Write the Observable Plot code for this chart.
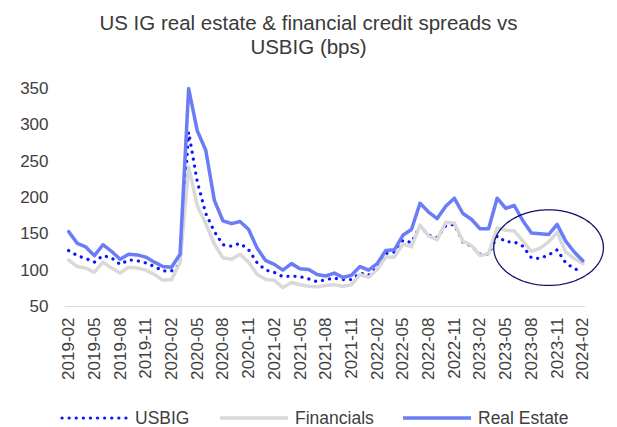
<!DOCTYPE html>
<html>
<head>
<meta charset="utf-8">
<script src="https://cdn.jsdelivr.net/npm/d3@7"></script>
<script src="https://cdn.jsdelivr.net/npm/@observablehq/plot@0.6"></script>
<style>
  html, body { margin: 0; padding: 0; background: #fff; }
  body { width: 617px; height: 427px; position: relative; overflow: hidden; font-family: "Liberation Sans", Arial, sans-serif; color: #404040; }
  #title { position: absolute; left: 0; top: 11px; width: 617px; text-align: center; font-size: 20.5px; line-height: 24px; color: #3a3a3a; }
  #chart { position: absolute; left: 0; top: 60px; }
  #legend { position: absolute; left: 0; top: 405px; width: 617px; height: 26px; font-size: 17.5px; }
  .item { position: absolute; top: 0; display: flex; align-items: center; height: 26px; }
  .item svg { margin-right: 7px; }
</style>
</head>
<body>
<div id="title">US IG real estate &amp; financial credit spreads vs<br>USBIG (bps)</div>
<div id="chart"></div>
<div id="legend"></div>
<script>
const months = ["2019-02","2019-03","2019-04","2019-05","2019-06","2019-07","2019-08","2019-09","2019-10","2019-11","2019-12",
"2020-01","2020-02","2020-03","2020-04","2020-05","2020-06","2020-07","2020-08","2020-09","2020-10","2020-11","2020-12",
"2021-01","2021-02","2021-03","2021-04","2021-05","2021-06","2021-07","2021-08","2021-09","2021-10","2021-11","2021-12",
"2022-01","2022-02","2022-03","2022-04","2022-05","2022-06","2022-07","2022-08","2022-09","2022-10","2022-11","2022-12",
"2023-01","2023-02","2023-03","2023-04","2023-05","2023-06","2023-07","2023-08","2023-09","2023-10","2023-11","2023-12",
"2024-01","2024-02"];

const usbig = [127,120,116,111,120,117,108,114,113,110,105,99,99,108,290,222,178,153,135,133,137,128,110,100,97,91,92,91,88,84,87,89,87,87,96,93,104,123,125,141,138,161,148,145,161,163,139,133,122,122,147,139,139,133,117,116,121,128,110,102,98];
const financials = [114,105,103,97,111,103,96,104,103,100,94,86,87,111,242,189,164,136,117,115,122,111,94,87,86,76,83,80,78,77,79,80,78,80,94,90,101,118,118,136,132,162,147,142,166,165,140,134,120,123,158,155,154,140,126,130,139,152,125,116,109];
const realEstate = [153,137,132,120,135,126,115,122,121,118,111,105,104,122,350,292,265,196,168,164,167,156,130,113,108,100,109,102,101,94,92,96,90,93,105,100,109,127,128,148,156,192,180,171,188,199,178,170,157,157,199,185,189,168,151,150,149,163,140,125,113];

const tickLabels = ["2019-02","2019-05","2019-08","2019-11","2020-02","2020-05","2020-08","2020-11","2021-02","2021-05","2021-08","2021-11","2022-02","2022-05","2022-08","2022-11","2023-02","2023-05","2023-08","2023-11","2024-02"];
const yTicks = [50,100,150,200,250,300,350];

const seriesNames = ["USBIG","Financials","Real Estate"];
const seriesColors = ["#0a14ff","#d9d9d9","#6a7cf6"];

// annotation ellipse: centre month, centre value, radius in months, radius in bps
const highlight = {month: "2023-10", value: 131, rMonths: 6.4, rBps: 52};

const rows = (vals) => vals.map((v, i) => ({i, v}));
const tickIdx = tickLabels.map(t => months.indexOf(t));

const cIdx = months.indexOf(highlight.month);
const ellipse = d3.range(0, 2 * Math.PI + 0.01, Math.PI / 90).map(t => ({
  i: cIdx + highlight.rMonths * Math.cos(t),
  v: highlight.value + highlight.rBps * Math.sin(t)
}));

const fontFamily = '"Liberation Sans", Arial, sans-serif';

const chart = Plot.plot({
  width: 617,
  height: 332,
  marginTop: 28,
  marginBottom: 86,
  marginLeft: 65,
  marginRight: 32,
  style: {fontFamily, color: "#404040", background: "transparent", overflow: "visible"},
  x: {type: "linear", domain: [-0.37, 60.31]},
  y: {type: "linear", domain: [50, 350]},
  marks: [
    Plot.ruleY([50], {stroke: "#d9d9d9", strokeWidth: 1}),
    Plot.axisY({ticks: yTicks, tickSize: 0, tickPadding: 17, fontSize: 17, label: null, fill: "#404040"}),
    Plot.axisX({ticks: tickIdx, tickFormat: i => months[i], tickRotate: -90, tickSize: 0, tickPadding: 11, fontSize: 17, label: null, fill: "#404040"}),
    Plot.line(rows(usbig), {x: "i", y: "v", stroke: seriesColors[0], strokeWidth: 3.2, strokeDasharray: "0.1 7", strokeLinecap: "round"}),
    Plot.line(rows(financials), {x: "i", y: "v", stroke: seriesColors[1], strokeWidth: 3.5, strokeLinejoin: "round"}),
    Plot.line(rows(realEstate), {x: "i", y: "v", stroke: seriesColors[2], strokeWidth: 3.5, strokeLinejoin: "round"}),
    Plot.line(ellipse, {x: "i", y: "v", stroke: "#10106e", strokeWidth: 1.3, curve: "linear"})
  ]
});
document.getElementById("chart").appendChild(chart);

// legend
const legend = document.getElementById("legend");
const legendX = [60, 220, 403];
seriesNames.forEach((name, k) => {
  const div = document.createElement("div");
  div.className = "item";
  div.style.left = legendX[k] + "px";
  const dash = k === 0 ? 'stroke-dasharray="0.1 7" stroke-linecap="round"' : '';
  div.innerHTML = `<svg width="68" height="8"><line x1="${k===0?2:0}" y1="4" x2="${k===0?66:68}" y2="4" stroke="${seriesColors[k]}" stroke-width="${k===0?3.2:3.5}" ${dash}/></svg><span>${name}</span>`;
  legend.appendChild(div);
});
</script>
</body>
</html>
